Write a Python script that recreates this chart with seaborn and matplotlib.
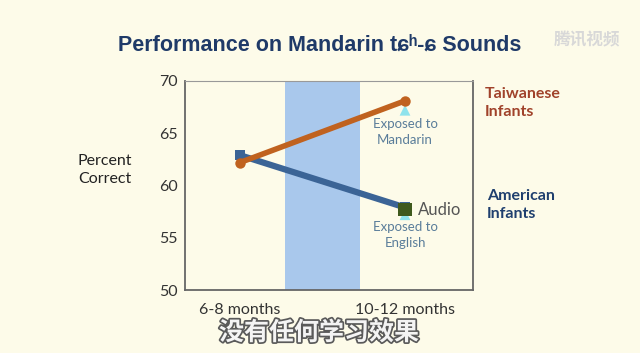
import matplotlib
matplotlib.use("Agg")
import matplotlib.pyplot as plt
import matplotlib.patheffects as pe
import seaborn as sns
import pandas as pd

ages = ["6-8 months", "10-12 months"]
taiwanese = [62.2, 68.1]
american = [62.9, 57.9]
exposed_mandarin = [67.2]
exposed_english = [57.2]
audio = [57.7]
yticks = [50, 55, 60, 65, 70]

sns.set_theme(style="white")
plt.rcParams['font.family'] = ['Lato', 'DejaVu Sans', 'Noto Sans CJK SC']

bg = "#fdfbe9"
fig = plt.figure(figsize=(6.4, 3.53), dpi=100, facecolor=bg)
ax = fig.add_axes([185/640, 1-290/353, (473-185)/640, (290-81)/353])
ax.set_facecolor(bg)

df = pd.DataFrame({
    "x": [0, 1, 0, 1],
    "y": taiwanese + american,
    "group": ["Taiwanese", "Taiwanese", "American", "American"],
})

ax.axvspan(0.27, 0.73, color="#a9c8ec", zorder=0, lw=0)

sns.lineplot(data=df[df.group == "American"], x="x", y="y", ax=ax, color="#3b6496",
             lw=4.5, marker="s", markersize=7, markeredgewidth=0, legend=False, zorder=3)
sns.lineplot(data=df[df.group == "Taiwanese"], x="x", y="y", ax=ax, color="#c0621f",
             lw=4, marker="o", markersize=7.5, markeredgewidth=0, legend=False, zorder=4)

sns.scatterplot(x=[1], y=exposed_mandarin, ax=ax, marker="^", color="#8fe3ec", s=60,
                edgecolor="none", zorder=2)
sns.scatterplot(x=[1], y=exposed_english, ax=ax, marker="^", color="#8fe3ec", s=60,
                edgecolor="none", zorder=2)
sns.scatterplot(x=[1], y=audio, ax=ax, marker="s", color="#3f5a1e", s=100,
                edgecolor="none", zorder=5)

ax.set_xlim(-0.333, 1.412)
ax.set_ylim(50, 70)
ax.set_yticks(yticks)
ax.set_yticklabels([str(v) for v in yticks], fontsize=11.5, color="#333333")
ax.set_xticks([0, 1])
ax.set_xticklabels(ages, fontsize=11.5, color="#333333")
ax.tick_params(axis="x", length=6, width=1.2, color="#555555", direction="inout", pad=6)
ax.tick_params(axis="y", length=0, pad=5)
ax.set_xlabel("")
ax.set_ylabel("")
for side in ["left", "bottom", "right"]:
    ax.spines[side].set_color("#666666")
    ax.spines[side].set_linewidth(1.3)
ax.spines["top"].set_color("#999999")
ax.spines["top"].set_linewidth(0.8)

ax.text(1.08, 57.7, "Audio", fontsize=12, color="#555555", va="center", ha="left")
ax.text(1.0, 65.1, "Exposed to\nMandarin", fontsize=9.5, color="#5a7d9a", ha="center",
        va="center", linespacing=1.4)
ax.text(1.0, 55.3, "Exposed to\nEnglish", fontsize=9.5, color="#5a7d9a", ha="center",
        va="center", linespacing=1.4)

fig.text(105/640, 1-170/353, "Percent\nCorrect", fontsize=11.5, color="#222222",
         ha="center", va="center", linespacing=1.4)
fig.text(485/640, 1-103/353, "Taiwanese\nInfants", fontsize=11.5, color="#a0422a",
         fontweight="bold", ha="left", va="center", linespacing=1.4)
fig.text(487/640, 1-205/353, "American\nInfants", fontsize=11.5, color="#1f3f6e",
         fontweight="bold", ha="left", va="center", linespacing=1.4)

fig.text(320/640, 1-45/353, "Performance on Mandarin t\u0255\u02b0-\u0255 Sounds",
         fontsize=15.5, color="#1f3a68", fontweight="bold", ha="center", va="center",
         family=["Liberation Sans", "DejaVu Sans"])

sub = fig.text(319/640, 1-333/353, "没有任何学习效果", fontsize=18, color="#f4f4f4",
               ha="center", va="center", family=["Noto Sans CJK SC", "DejaVu Sans"],
               fontweight="bold")
sub.set_path_effects([pe.withStroke(linewidth=2.5, foreground="#5a5a5a")])

wm = fig.text(587/640, 1-40/353, "腾讯视频", fontsize=12, color="#d8d8d8",
              ha="center", va="center", family=["Noto Sans CJK SC", "DejaVu Sans"],
              fontweight="bold", style="italic")

fig.savefig("out.png", dpi=100, facecolor=bg)
